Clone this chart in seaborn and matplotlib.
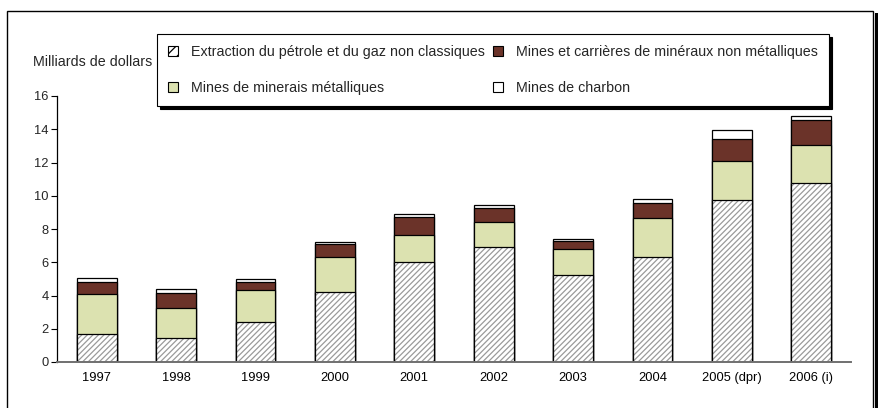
import numpy as np
import pandas as pd
import matplotlib
matplotlib.use("Agg")
import matplotlib.pyplot as plt
import seaborn as sns
from matplotlib.patches import Patch, Rectangle

# valeurs (milliards de dollars)
annees = ["1997", "1998", "1999", "2000", "2001", "2002", "2003", "2004", "2005 (dpr)", "2006 (i)"]
petrole_gaz = [1.68, 1.42, 2.40, 4.21, 5.99, 6.89, 5.21, 6.29, 9.72, 10.74]
minerais_metal = [2.39, 1.81, 1.91, 2.12, 1.63, 1.51, 1.56, 2.39, 2.40, 2.33]
non_metal = [0.72, 0.90, 0.48, 0.76, 1.08, 0.84, 0.50, 0.86, 1.27, 1.48]
charbon = [0.24, 0.24, 0.18, 0.14, 0.22, 0.18, 0.12, 0.26, 0.56, 0.26]

lab_petrole = "Extraction du pétrole et du gaz non classiques"
lab_metal = "Mines de minerais métalliques"
lab_nonmetal = "Mines et carrières de minéraux non métalliques"
lab_charbon = "Mines de charbon"

c_vert = "#dce2b0"
c_brun = "#6b3329"
c_hachure = "#9a9a9a"

sns.set_style("white")
plt.rcParams["font.family"] = ["Liberation Sans", "DejaVu Sans"]
plt.rcParams["hatch.linewidth"] = 0.9

df = pd.DataFrame({"annee": annees, "petrole": petrole_gaz, "metal": minerais_metal,
                   "nonmetal": non_metal, "charbon": charbon})
df["cum1"] = df["petrole"]
df["cum2"] = df["cum1"] + df["metal"]
df["cum3"] = df["cum2"] + df["nonmetal"]
df["cum4"] = df["cum3"] + df["charbon"]

fig = plt.figure(figsize=(8.79, 4.08), dpi=100)
ax = fig.add_axes([57 / 879, 46 / 408, (851 - 57) / 879, (362 - 96) / 408])

# barres empilees : on dessine les cumuls du plus haut au plus bas
kw = dict(x="annee", width=0.5, saturation=1, ax=ax, errorbar=None)
sns.barplot(data=df, y="cum4", color="white", edgecolor="black", linewidth=0.9, **kw)
sns.barplot(data=df, y="cum3", color=c_brun, edgecolor="black", linewidth=0.9, **kw)
sns.barplot(data=df, y="cum2", color=c_vert, edgecolor="black", linewidth=0.9, **kw)
sns.barplot(data=df, y="cum1", color="white", edgecolor=c_hachure, linewidth=0, hatch="//////", **kw)
sns.barplot(data=df, y="cum1", color="black", fill=False, linewidth=0.9, **kw)

ax.set_xlim(-0.5, 9.5)
ax.set_ylim(0, 16)
ax.set_yticks(np.arange(0, 17, 2))
ax.set_xlabel("")
ax.set_ylabel("")

ax.set_xticks(np.arange(-0.5, 10, 1), minor=True)
ax.tick_params(axis="x", which="major", length=0, pad=7, labelsize=9.3, colors="black")
ax.tick_params(axis="x", which="minor", length=4, width=1, direction="out", color="black")
ax.tick_params(axis="y", length=4.5, width=0.8, pad=1.5, labelsize=9.3, direction="out", color="black")
ax.tick_params(axis="both", left=True, bottom=True)

for s in ["top", "right"]:
    ax.spines[s].set_visible(False)
ax.spines["left"].set_color("black")
ax.spines["left"].set_linewidth(0.9)
ax.spines["bottom"].set_color("#707070")
ax.spines["bottom"].set_linewidth(1.4)

fig.text(33 / 879, 1 - 62 / 408, "Milliards de dollars", fontsize=10.3, va="center", ha="left")

# cadre exterieur
fig.patches.append(Rectangle((7 / 879, -0.1), (873 - 7) / 879, 1.1 - 11 / 408,
                             transform=fig.transFigure, fill=False, edgecolor="black",
                             linewidth=1, zorder=0))
fig.patches.append(Rectangle((875 / 879, -0.1), 4 / 879, 1.1 - 13 / 408,
                             transform=fig.transFigure, facecolor="black",
                             edgecolor="none", zorder=0))

handles = [
    Patch(facecolor="white", edgecolor="black", hatch="///", linewidth=0.8, label=lab_petrole),
    Patch(facecolor=c_vert, edgecolor="black", linewidth=0.8, label=lab_metal),
    Patch(facecolor=c_brun, edgecolor="black", linewidth=0.8, label=lab_nonmetal),
    Patch(facecolor="white", edgecolor="black", linewidth=0.8, label=lab_charbon),
]
leg = fig.legend(handles=handles, ncols=2, loc="upper left",
                 bbox_to_anchor=(157 / 879, 1 - 34 / 408), fontsize=10.3,
                 frameon=True, fancybox=False, shadow={"color": "black", "alpha": 1},
                 borderpad=0.79, labelspacing=1.52, handlelength=0.7, handleheight=0.7,
                 handletextpad=0.87, columnspacing=0.6, borderaxespad=0)
leg.get_frame().set_edgecolor("black")
leg.get_frame().set_linewidth(0.8)

fig.savefig("out.png", dpi=100)
